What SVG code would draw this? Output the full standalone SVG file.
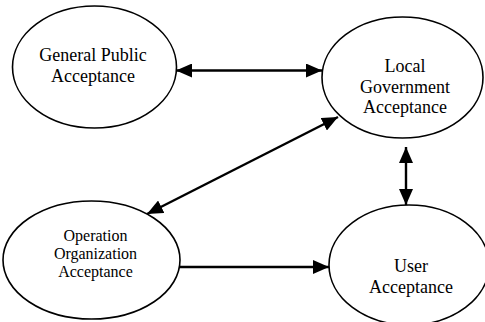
<svg xmlns="http://www.w3.org/2000/svg" width="485" height="322" viewBox="0 0 485 322">
<style>
.bubble{fill:#fff;stroke:#000;stroke-width:1.6}
.lbl{font-family:'Liberation Serif',serif;font-size:18px;fill:#000;text-anchor:middle}
.lbl16{font-family:'Liberation Serif',serif;font-size:16px;fill:#000;text-anchor:middle}
.edge{stroke:#000;stroke-width:2.4}
</style>
<defs>
<marker id="ah" viewBox="0 0 16 14" refX="16" refY="7" markerWidth="16" markerHeight="14" markerUnits="userSpaceOnUse" orient="auto-start-reverse">
<path d="M0,0 L16,7 L0,14 Z" fill="#000"/>
</marker>
</defs>
<rect width="485" height="322" fill="#fff"/>
<g id="connectors">
<line class="edge" x1="176" y1="70.5" x2="322" y2="70.5" marker-start="url(#ah)" marker-end="url(#ah)"/>
<line class="edge" x1="338" y1="117" x2="147" y2="214" marker-start="url(#ah)" marker-end="url(#ah)"/>
<line class="edge" x1="406" y1="147" x2="406" y2="205" marker-start="url(#ah)" marker-end="url(#ah)"/>
<line class="edge" x1="173" y1="267" x2="329" y2="267" marker-end="url(#ah)"/>
</g>
<g id="general-public">
<ellipse class="bubble" cx="94.5" cy="67" rx="82" ry="61"/>
<text class="lbl" x="93" y="61">General Public</text>
<text class="lbl" x="93" y="82">Acceptance</text>
</g>
<g id="local-government">
<ellipse class="bubble" cx="402.5" cy="77.5" rx="80.5" ry="60.5"/>
<text class="lbl" x="405" y="72">Local</text>
<text class="lbl" x="405" y="92.5">Government</text>
<text class="lbl" x="405" y="113">Acceptance</text>
</g>
<g id="operation-organization">
<ellipse class="bubble" cx="91.5" cy="260" rx="88.5" ry="59"/>
<text class="lbl16" x="95.5" y="241">Operation</text>
<text class="lbl16" x="95.5" y="259">Organization</text>
<text class="lbl16" x="95.5" y="277">Acceptance</text>
</g>
<g id="user">
<ellipse class="bubble" cx="409" cy="265" rx="80" ry="60"/>
<text class="lbl" x="411" y="272">User</text>
<text class="lbl" x="411" y="293">Acceptance</text>
</g>
</svg>
